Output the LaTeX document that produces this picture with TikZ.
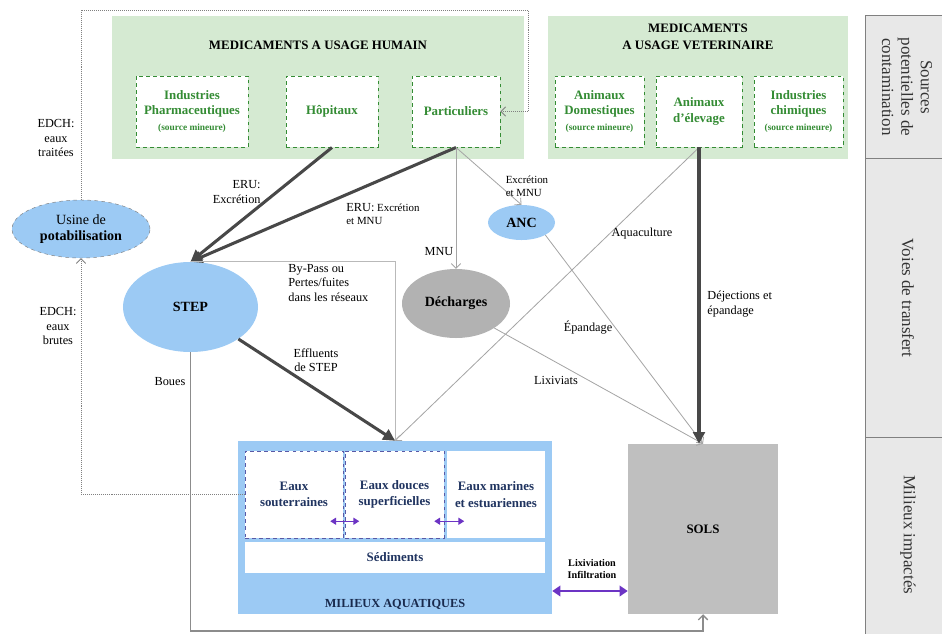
\documentclass[tikz,border=0pt]{standalone}
\usepackage{fontspec}
\setmainfont{Liberation Serif}
\usetikzlibrary{shapes.geometric,arrows.meta}

\definecolor{vertfond}{RGB}{213,234,210}
\definecolor{vertnom}{RGB}{52,140,52}
\definecolor{bleufond}{RGB}{156,202,244}
\definecolor{bleunom}{RGB}{32,52,96}
\definecolor{grisfonce}{RGB}{72,72,72}
\definecolor{grisclair}{RGB}{165,165,165}
\definecolor{violetfl}{RGB}{108,52,196}

\tikzset{
  vert/.style={rectangle, fill=vertfond, minimum height=4.29cm, inner sep=0pt},
  titre/.style={font=\fontsize{11}{14.5}\selectfont\bfseries, align=center},
  source/.style={rectangle, fill=white, draw=vertnom, dashed, line width=0.8pt,
    minimum height=2.13cm, inner sep=0pt, align=center, text=vertnom,
    font=\fontsize{11}{13.5}\selectfont\bfseries},
  mineur/.style={},
  bulle/.style={ellipse, inner sep=0pt, fill=bleufond, font=\fontsize{12}{13.6}\selectfont, align=center},
  milieu/.style={rectangle, fill=white, inner sep=0pt, align=center, text=bleunom,
    font=\fontsize{11}{14}\selectfont\bfseries},
  lab/.style={font=\fontsize{10.5}{12.3}\selectfont, align=center, inner sep=1pt},
  petit/.style={font=\fontsize{9.3}{11}\selectfont, align=left, inner sep=1pt},
  lourd/.style={draw=grisfonce, line width=2.6pt, -{Triangle[length=10pt,width=10pt]}},
  fin/.style={draw=grisclair, line width=0.7pt, -{Straight Barb[length=4pt,width=8pt]}},
  pointille/.style={draw=gray, densely dotted, line width=0.7pt, -{Straight Barb[length=4pt,width=8pt]}},
  boue/.style={draw=gray!90, line width=1.1pt, -{Straight Barb[length=4pt,width=8pt]}},
  echange/.style={draw=violetfl, line width=1.1pt, {Triangle[length=5pt,width=6pt]}-{Triangle[length=5pt,width=6pt]}},
  colonne/.style={rectangle, fill=gray!18, draw=gray, line width=0.8pt, minimum width=2.4cm, inner sep=0pt},
  coltxt/.style={rotate=-90, align=center, font=\fontsize{14.5}{16.5}\selectfont, text=black!80}
}

\newcommand{\mineure}{{\fontsize{8}{10}\selectfont (source mineure)}}

\begin{document}
\begin{tikzpicture}[x=0.03cm,y=-0.03cm]
\useasboundingbox (0,0) rectangle (942,633);

\node[colonne, minimum height=4.29cm] (sec1) at (905,86.5) {};
\node[colonne, minimum height=8.37cm] (sec2) at (905,297.5) {};
\node[colonne, minimum height=6.09cm] (sec3) at (905,538.5) {};
\node[coltxt] (tsec1) at (907,87) {Sources\\potentielles de\\contamination};
\node[coltxt] (tsec2) at (908,298) {Voies de transfert};
\node[coltxt] (tsec3) at (908,535) {Milieux impactés};

\node[vert, minimum width=12.36cm] (hum) at (318,87.5) {};
\node[titre] (thum) at (318,45) {MEDICAMENTS A USAGE HUMAIN};
\node[source, minimum width=3.36cm] (ind) at (192,111.5) {Industries\\Pharmaceutiques\\\mineure};
\node[source, minimum width=2.76cm] (hop) at (332,111.5) {Hôpitaux};
\node[source, minimum width=2.64cm] (par) at (456,111.5) {Particuliers};

\node[vert, minimum width=9cm] (vet) at (698,87.5) {};
\node[titre] (tvet) at (698,36.5) {MEDICAMENTS\\A USAGE VETERINAIRE};
\node[source, minimum width=2.67cm] (dom) at (599.5,111.5) {Animaux\\Domestiques\\\mineure};
\node[source, minimum width=2.58cm] (ele) at (699,111.5) {Animaux\\d'élevage};
\node[source, minimum width=2.67cm] (chi) at (798.5,111.5) {Industries\\chimiques\\\mineure};

\node[bulle, draw=gray, dashed, minimum width=4.14cm, minimum height=1.74cm] (usine) at (81,229) {Usine de\\\textbf{potabilisation}};
\node[bulle, minimum width=4.05cm, minimum height=2.7cm] (step) at (190.5,307) {\textbf{STEP}};
\node[bulle, minimum width=2.01cm, minimum height=1.05cm] (anc) at (521.5,222.5) {\textbf{ANC}};
\node[bulle, fill=gray!60, minimum width=3.24cm, minimum height=2.07cm] (dech) at (456,303.5) {\textbf{Décharges}};

\node[rectangle, fill=bleufond, minimum width=9.42cm, minimum height=5.19cm] (aqua) at (395,527.5) {};
\node[milieu, draw=gray!70!blue, dashed, minimum width=2.94cm, minimum height=2.61cm] (sout) at (294,494.5) {Eaux\\souterraines};
\node[milieu, draw=gray!70!blue, dashed, minimum width=2.97cm, minimum height=2.61cm] (douce) at (394.5,494.5) {Eaux douces\\superficielles};
\node[milieu, minimum width=2.94cm, minimum height=2.61cm] (mar) at (496,494.5) {Eaux marines\\et estuariennes};
\node[milieu, minimum width=9cm, minimum height=0.93cm] (sed) at (395,557.5) {Sédiments};
\node[titre, text=bleunom!80!black, font=\fontsize{10.5}{12}\selectfont\bfseries] (taqua) at (395,604) {MILIEUX AQUATIQUES};

\node[rectangle, fill=gray!50, minimum width=4.5cm, minimum height=5.1cm, font=\fontsize{11}{13}\selectfont\bfseries] (sols) at (703,529) {SOLS};

\draw[pointille] (usine.north) |- (528,10) |- (par.east);
\draw[pointille] (sout.west) -| (usine.south);
\node[lab] (ltraitees) at (56,138) {EDCH:\\eaux\\traitées};
\node[lab] (lbrutes) at (58,326) {EDCH:\\eaux\\brutes};

\draw[lourd] (hop.south) -- (step.north);
\draw[lourd] (par.south) -- (step.north);
\node[lab, anchor=east, align=right] (leru1) at (262,192) {ERU:\\Excrétion};
\node[petit, anchor=west] (leru2) at (345,214) {{\fontsize{10.5}{12}\selectfont ERU:} Excrétion\\et MNU};

\draw[fin] (par.south) -- (dech.north);
\node[lab] (lmnu) at (439,252) {MNU};
\draw[fin] (par.south) -- (anc.north);
\node[petit] (lexcr) at (527,186) {Excrétion\\et MNU};

\draw[fin] (anc.south east) -- (sols.north);
\node[lab] (lepand) at (588,328) {Épandage};
\draw[fin] (dech.south east) -- (sols.north);
\node[lab] (llixi) at (556,380) {Lixiviats};
\draw[fin] (ele.south) -- (aqua.north);
\node[lab] (laqua) at (642,234) {Aquaculture};
\draw[lourd] (ele.south) -- (ele.south |- sols.north);
\node[lab, anchor=west, align=left] (ldej) at (706,304) {Déjections et\\épandage};

\draw[fin, draw=gray!55] (step.north) -| (aqua.north);
\node[lab, anchor=west, align=left] (lbypass) at (287,283) {By-Pass ou\\Pertes/fuites\\dans les réseaux};
\draw[lourd] (step.south east) -- (aqua.north);
\node[lab] (leffl) at (316,360) {Effluents\\de STEP};
\draw[boue] (step.south) -- (step.south |- 0,631) -| (sols.south);
\node[lab] (lboues) at (170,382) {Boues};

\draw[echange] ([shift={(-13,-17)}]sout.south east) -- ([shift={(16,-17)}]sout.south east);
\draw[echange] ([shift={(-10,-17)}]douce.south east) -- ([shift={(20,-17)}]douce.south east);
\draw[echange, line width=2.4pt, {Triangle[length=7pt,width=9pt]}-{Triangle[length=7pt,width=9pt]}] (aqua.east |- 0,591) -- (sols.west |- 0,591);
\node[lab, font=\fontsize{8.7}{10.5}\selectfont\bfseries] (linfil) at (592,569) {Lixiviation\\Infiltration};
\end{tikzpicture}
\end{document}
